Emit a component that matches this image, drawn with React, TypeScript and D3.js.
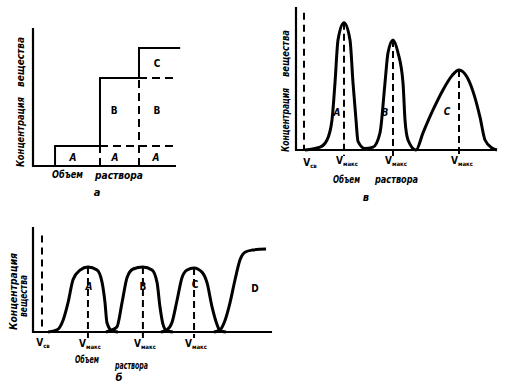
import * as d3 from "d3";

// --- panel а: frontal steps (volume, cumulative concentration) ---
const stepFronts = [15.2, 46.2, 73.1];
const stepLevels = [14.5, 63.8, 85.5];
const stepDashEnd = 97.5;
const stepTopEnd = 101.5;
const stepLabels = [
  { t: "A", x: 27.6, y: 6.5 },
  { t: "A", x: 56.6, y: 6.5 },
  { t: "A", x: 84.8, y: 6.5 },
  { t: "B", x: 55.9, y: 39.9 },
  { t: "B", x: 85.5, y: 39.9 },
  { t: "C", x: 85.5, y: 74.6 },
];

// --- panel в: elution peaks (volume, concentration) ---
const elutionX = [4.5, 12, 15.5, 18, 19.5, 21, 24, 27, 28.5, 30, 31, 34.5, 38.5, 42, 44.5, 46, 48.5, 51, 53.5, 54.5, 56, 60, 63.5, 68.5, 73.5, 78, 81.5, 85.5, 88.5, 92, 94.5, 98, 100.5];
const elutionY = [0, 2, 7, 21, 47, 77, 89, 77, 47, 21, 6, 1, 2, 12, 47, 68, 77, 68, 47, 21, 7, 0, 12, 28, 42, 52, 56, 51, 41, 23, 7, 1.5, 0];
const elutionVsv = 4;
const elutionPeaks = [
  { x: 24, y: 89 },
  { x: 48.5, y: 77 },
  { x: 81.5, y: 56 },
];
const elutionLabels = [
  { t: "A", x: 20.5, y: 25.9 },
  { t: "B", x: 44.5, y: 25.9 },
  { t: "C", x: 75.5, y: 26.6 },
];

// --- panel б: displacement zones ---
const dispA = { x: [6.3, 10, 12.5, 14.6, 16.7, 19.6, 22.9, 26.7, 28.8, 30, 30.8, 32.9, 35.4], y: [0, 2, 11, 28, 50, 59, 62, 59, 47, 28, 9, 1, 0] };
const dispB = { x: [30.4, 32.9, 35, 37.1, 39.2, 41.7, 45.8, 49.6, 51.7, 52.9, 54.2, 55.8, 58.3], y: [0, 2, 5, 28, 52, 60, 62, 59, 47, 24, 7, 1, 0] };
const dispC = { x: [53.3, 55.8, 57.9, 60, 62.1, 64.2, 67.1, 70.4, 72.5, 74.6, 76.7, 77.9, 80.4], y: [0, 2, 9, 30, 52, 59, 61, 57, 47, 24, 7, 1, 0] };
const dispD = { x: [75.4, 77.9, 80, 82.1, 84.2, 86.3, 88.3, 91.3, 97.1], y: [0, 2, 11, 28, 50, 69, 76, 78, 79] };
const dispVsv = 3.75;
const dispPeaks = [
  { x: 22.9, y: 62 },
  { x: 45.8, y: 62 },
  { x: 67.1, y: 61 },
];
const dispLabels = [
  { t: "A", x: 23.3, y: 42.9 },
  { t: "B", x: 45.8, y: 42.9 },
  { t: "C", x: 67.5, y: 45.7 },
  { t: "D", x: 92.5, y: 41 },
];

const font = "'DejaVu Sans Condensed', 'DejaVu Sans', sans-serif";
const ink = "#000";

const toPts = (xs: number[], ys: number[]) => xs.map((x, i) => [x, ys[i]] as [number, number]);

function VLabel({ x, y, sub }: { x: number; y: number; sub: string }) {
  return (
    <text x={x} y={y} fontFamily={font} fontWeight="bold" fontSize={10} textAnchor="middle" fill={ink}>
      V
      <tspan fontSize={6} dy={2}>{sub}</tspan>
    </text>
  );
}

function Label({ x, y, t, size = 10, italic = false }: { x: number; y: number; t: string; size?: number; italic?: boolean }) {
  return (
    <text x={x} y={y} fontFamily={font} fontWeight="bold" fontStyle={italic ? "italic" : "normal"} fontSize={size} textAnchor="middle" dominantBaseline="central" fill={ink}>
      {t}
    </text>
  );
}

function YTitle({ x, y0, y1, t }: { x: number; y0: number; y1: number; t: string }) {
  // rotated text spanning y0 (bottom) .. y1 (top)
  const cy = (y0 + y1) / 2;
  return (
    <text
      transform={`translate(${x},${cy}) rotate(-90)`}
      textAnchor="middle"
      dominantBaseline="central"
      fontFamily={font}
      fontWeight="bold"
      fontStyle="italic"
      fontSize={10}
      textLength={y0 - y1}
      lengthAdjust="spacingAndGlyphs"
      fill={ink}
    >
      {t}
    </text>
  );
}

function XWord({ x0, x1, y, t }: { x0: number; x1: number; y: number; t: string }) {
  return (
    <text x={x0} y={y} fontFamily={font} fontWeight="bold" fontStyle="italic" fontSize={10} textLength={x1 - x0} lengthAdjust="spacingAndGlyphs" fill={ink}>
      {t}
    </text>
  );
}

function PanelA() {
  const x = d3.scaleLinear().domain([0, 100]).range([33, 178]);
  const y = d3.scaleLinear().domain([0, 100]).range([166, 28]);
  const solid: string[] = [];
  const dashed: string[] = [];
  stepFronts.forEach((f, i) => {
    const lo = i === 0 ? 0 : stepLevels[i - 1];
    const hi = stepLevels[i];
    const next = i < stepFronts.length - 1 ? stepFronts[i + 1] : stepTopEnd;
    solid.push(`M${x(f)},${y(lo)}V${y(hi)}H${x(next)}`);
    if (i > 0) dashed.push(`M${x(f)},${y(0)}V${y(lo)}`);
    if (i < stepFronts.length - 1) dashed.push(`M${x(next)},${y(hi)}H${x(stepDashEnd)}`);
  });
  return (
    <g>
      <path d={`M${x(0)},${y(100)}V${y(0)}H${x(98.6)}`} fill="none" stroke={ink} strokeWidth={2.2} />
      {solid.map((d, i) => (
        <path key={"s" + i} d={d} fill="none" stroke={ink} strokeWidth={2} />
      ))}
      {dashed.map((d, i) => (
        <path key={"d" + i} d={d} fill="none" stroke={ink} strokeWidth={2} strokeDasharray="8,5" />
      ))}
      {stepLabels.map((l, i) => (
        <Label key={i} x={x(l.x)} y={y(l.y)} t={l.t} italic={l.t === "A"} />
      ))}
      <YTitle x={20} y0={167} y1={97} t="Концентрация" />
      <YTitle x={20} y0={87} y1={37} t="вещества" />
      <XWord x0={52} x1={83} y={178} t="Объем" />
      <XWord x0={95} x1={143} y={179} t="раствора" />
      <Label x={97} y={192} t="а" size={11} italic />
    </g>
  );
}

function PanelV() {
  const x = d3.scaleLinear().domain([0, 100]).range([296, 496]);
  const y = d3.scaleLinear().domain([0, 100]).range([150, 7]);
  const line = d3.line<[number, number]>().x((d) => x(d[0])).y((d) => y(d[1])).curve(d3.curveMonotoneX);
  return (
    <g>
      <path d={`M${x(0)},${y(100)}V${y(0)}H${x(100.5)}`} fill="none" stroke={ink} strokeWidth={2.2} />
      <line x1={x(elutionVsv)} x2={x(elutionVsv)} y1={y(96)} y2={y(0)} stroke={ink} strokeWidth={2} strokeDasharray="7,5" />
      {elutionPeaks.map((p, i) => (
        <line key={i} x1={x(p.x)} x2={x(p.x)} y1={y(p.y)} y2={y(0) + 6} stroke={ink} strokeWidth={2} strokeDasharray="7,4" />
      ))}
      <path d={line(toPts(elutionX, elutionY)) || ""} fill="none" stroke={ink} strokeWidth={3} strokeLinejoin="round" />
      {elutionLabels.map((l, i) => (
        <Label key={i} x={x(l.x)} y={y(l.y)} t={l.t} italic />
      ))}
      <VLabel x={x(elutionVsv) + 6} y={166} sub="св" />
      {elutionPeaks.map((p, i) => (
        <VLabel key={i} x={x(p.x) + 3} y={164} sub="макс" />
      ))}
      <YTitle x={285} y0={152} y1={88} t="Концентрация" />
      <YTitle x={285} y0={77} y1={30} t="вещества" />
      <XWord x0={333} x1={360} y={183} t="Объем" />
      <XWord x0={375} x1={418} y={183} t="раствора" />
      <Label x={366} y={197} t="в" size={11} italic />
    </g>
  );
}

function PanelB() {
  const x = d3.scaleLinear().domain([0, 100]).range([33, 273]);
  const y = d3.scaleLinear().domain([0, 100]).range([332, 227]);
  const line = d3.line<[number, number]>().x((d) => x(d[0])).y((d) => y(d[1])).curve(d3.curveMonotoneX);
  const zones = [dispA, dispB, dispC, dispD];
  return (
    <g>
      <path d={`M${x(0)},${y(100)}V${y(0)}H${x(99.6)}`} fill="none" stroke={ink} strokeWidth={2.2} />
      <line x1={x(dispVsv)} x2={x(dispVsv)} y1={y(92)} y2={y(0)} stroke={ink} strokeWidth={2} strokeDasharray="7,5" />
      {dispPeaks.map((p, i) => (
        <line key={i} x1={x(p.x)} x2={x(p.x)} y1={y(p.y)} y2={y(0) + 6} stroke={ink} strokeWidth={2} strokeDasharray="7,4" />
      ))}
      {zones.map((z, i) => (
        <path key={i} d={line(toPts(z.x, z.y)) || ""} fill="none" stroke={ink} strokeWidth={3} strokeLinejoin="round" />
      ))}
      {dispLabels.map((l, i) => (
        <Label key={i} x={x(l.x)} y={y(l.y)} t={l.t} italic={l.t === "A"} />
      ))}
      <VLabel x={x(dispVsv) + 1} y={346} sub="св" />
      {dispPeaks.map((p, i) => (
        <VLabel key={i} x={x(p.x) + 2} y={347} sub="макс" />
      ))}
      <YTitle x={13} y0={330} y1={253} t="Концентрация" />
      <YTitle x={23} y0={317} y1={275} t="вещества" />
      <XWord x0={75} x1={99} y={363} t="Объем" />
      <XWord x0={115} x1={148} y={369} t="раствора" />
      <Label x={119} y={377} t="б" size={11} italic />
    </g>
  );
}

export default function App() {
  return (
    <svg width={530} height={392} style={{ position: "absolute", left: 0, top: 0, background: "#fff" }}>
      <rect width={530} height={392} fill="#fff" />
      <PanelA />
      <PanelV />
      <PanelB />
    </svg>
  );
}
